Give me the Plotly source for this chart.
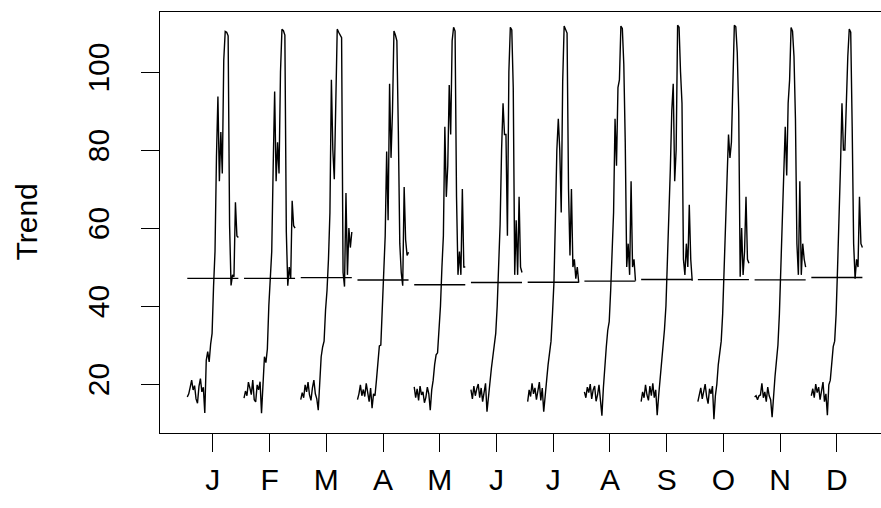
import numpy as np
import plotly.graph_objects as go

# Month labels for the seasonal subseries plot
month_labels = ["J", "F", "M", "A", "M", "J", "J", "A", "S", "O", "N", "D"]

# Trend values of each calendar month, one value per year
trend_jan = [16.7, 17.5, 19.2, 21.0, 18.5, 19.6, 16.2, 15.1, 19.4, 21.4, 18.0, 19.2, 12.6, 26.1, 28.3, 25.7, 30.2, 33.0,
             45.0, 54.0, 78.2, 93.7, 72.0, 84.6, 74.0, 103.1, 110.4, 110.2, 109.3, 60.7, 45.3, 48.0, 47.5, 66.6, 58.0, 57.6]
trend_feb = [16.4, 18.2, 17.0, 20.5, 19.0, 17.3, 21.0, 16.0, 15.4, 19.8, 18.5, 20.6, 12.5, 22.0, 27.0, 25.5, 29.0, 40.0,
             47.0, 54.0, 76.0, 95.0, 72.0, 82.0, 74.0, 100.0, 111.0, 110.6, 109.5, 59.0, 45.2, 50.0, 47.0, 67.0, 60.6, 60.0]
trend_mar = [16.0, 17.8, 16.5, 19.8, 18.0, 20.5, 17.2, 15.8, 19.0, 21.0, 17.5, 16.2, 13.3, 22.5, 27.0, 29.5, 31.0, 39.0,
             44.0, 52.0, 64.0, 98.0, 80.0, 72.5, 90.0, 111.0, 110.2, 109.5, 108.8, 48.6, 45.0, 69.0, 48.0, 60.0, 55.0, 59.0]
trend_apr = [16.0, 17.5, 19.8, 17.0, 18.6, 16.8, 20.2, 18.0, 15.5, 19.0, 13.8, 17.5, 17.0, 21.0, 26.0, 29.8, 30.0, 38.0,
             48.0, 58.0, 79.6, 62.0, 97.0, 78.0, 90.0, 110.5, 109.5, 108.0, 85.0, 56.0, 48.6, 45.2, 70.5, 57.0, 53.0, 53.8]
trend_may = [19.3, 16.5, 18.8, 15.8, 19.5, 17.2, 18.0, 15.2, 16.6, 19.2, 17.5, 13.3, 18.5, 21.0, 25.0, 27.5, 28.0, 33.0,
             40.0, 50.0, 58.0, 86.0, 68.0, 76.0, 96.7, 84.0, 108.0, 111.5, 110.5, 68.0, 48.0, 54.0, 48.0, 70.0, 50.0, 50.0]
trend_jun = [18.6, 16.2, 19.5, 17.0, 18.8, 20.0, 16.5, 19.0, 15.5, 17.8, 20.2, 12.9, 17.0, 20.0, 24.0, 27.0, 30.0, 33.0,
             40.0, 52.0, 61.0, 80.0, 92.0, 84.0, 84.0, 58.0, 100.0, 111.5, 110.8, 96.0, 48.0, 62.0, 48.0, 68.0, 50.0, 48.6]
trend_jul = [15.5, 18.5, 16.8, 20.2, 17.5, 19.0, 16.0, 18.2, 20.5, 15.8, 19.0, 12.9, 18.0, 21.0, 25.0, 28.0, 31.0, 38.0,
             46.0, 62.0, 80.0, 88.0, 80.0, 64.0, 97.6, 111.8, 111.0, 110.0, 70.0, 53.0, 70.0, 50.0, 52.0, 47.0, 50.0, 46.0]
trend_aug = [18.0, 16.5, 19.2, 17.8, 20.0, 16.2, 18.5, 19.5, 15.6, 17.2, 19.8, 14.5, 11.9, 19.0, 26.0, 29.5, 33.8, 36.0,
             44.0, 54.0, 64.0, 88.0, 76.0, 96.0, 98.0, 111.8, 111.2, 102.0, 82.0, 50.0, 56.0, 48.0, 72.0, 50.0, 52.0, 46.5]
trend_sep = [15.5, 18.0, 16.5, 19.8, 17.2, 15.8, 19.5, 17.0, 20.2, 16.5, 18.5, 12.0, 17.0, 21.0, 26.0, 29.0, 34.0, 40.0,
             52.0, 59.7, 75.0, 90.0, 97.0, 72.0, 80.0, 112.0, 111.5, 100.0, 92.0, 52.0, 48.0, 56.0, 50.0, 66.0, 52.0, 46.5]
trend_oct = [15.5, 17.8, 19.0, 16.2, 18.5, 20.0, 16.8, 15.0, 18.8, 17.5, 19.5, 11.0, 17.0, 20.0, 25.0, 28.0, 31.0, 38.0,
             48.0, 59.7, 72.6, 84.0, 78.0, 82.0, 96.0, 112.0, 111.6, 105.0, 90.0, 47.5, 60.0, 48.0, 54.0, 68.0, 52.0, 51.0]
trend_nov = [16.7, 17.0, 16.0, 17.0, 17.2, 20.2, 16.5, 18.0, 15.5, 19.2, 17.0, 16.0, 11.5, 18.0, 22.0, 26.0, 30.0, 38.0,
             50.0, 60.6, 73.5, 86.0, 73.5, 92.0, 98.0, 111.4, 110.5, 104.0, 88.0, 56.0, 48.0, 72.0, 48.0, 56.0, 52.0, 50.0]
trend_dec = [17.0, 18.8, 16.5, 20.0, 17.8, 19.2, 16.0, 18.5, 20.5, 15.5, 17.5, 12.0, 19.8, 21.0, 25.0, 29.6, 31.0, 38.0,
             50.0, 60.6, 76.0, 92.0, 80.0, 80.0, 96.0, 104.0, 111.0, 110.2, 86.0, 56.0, 47.0, 52.0, 50.0, 68.0, 56.0, 55.0]

subseries = [trend_jan, trend_feb, trend_mar, trend_apr, trend_may, trend_jun,
             trend_jul, trend_aug, trend_sep, trend_oct, trend_nov, trend_dec]

y_ticks = [20, 40, 60, 80, 100]

LINE = dict(color="black", width=1.4)
FONT = "Liberation Sans, Arial, sans-serif"

fig = go.Figure()
for i, vals in enumerate(subseries, start=1):
    vals = np.asarray(vals, dtype=float)
    xs = np.linspace(i - 0.45, i + 0.45, len(vals))
    fig.add_trace(go.Scatter(x=xs, y=vals, mode="lines", line=LINE,
                             hoverinfo="skip", showlegend=False))
    # horizontal line at the subseries mean
    base = vals.mean()
    fig.add_trace(go.Scatter(x=[i - 0.45, i + 0.45], y=[base, base], mode="lines",
                             line=LINE, hoverinfo="skip", showlegend=False))

fig.update_layout(
    width=881, height=508,
    margin=dict(l=160, r=0, t=12, b=75),
    paper_bgcolor="white", plot_bgcolor="white",
    font=dict(family=FONT, size=30, color="black"),
    xaxis=dict(range=[0.069, 12.778], tickmode="array",
               tickvals=list(range(1, 13)), ticktext=month_labels,
               ticks="outside", ticklen=18, tickwidth=1.4, tickcolor="black",
               showline=True, linecolor="black", linewidth=1.4, mirror=True,
               showgrid=False, zeroline=False, ticklabelstandoff=2),
    yaxis=dict(range=[7.45, 115.4], tickmode="array", tickvals=y_ticks,
               ticks="outside", ticklen=18, tickwidth=1.4, tickcolor="black",
               tickangle=-90, showline=True, linecolor="black", linewidth=1.4,
               mirror=False, showgrid=False, zeroline=False, ticklabelstandoff=20),
    annotations=[dict(text="Trend", x=-(160 - 26) / 721, y=0.5, xref="paper", yref="paper",
                      xanchor="center", yanchor="middle",
                      textangle=-90, showarrow=False, font=dict(size=30))],
)

fig.write_html("out.html")
